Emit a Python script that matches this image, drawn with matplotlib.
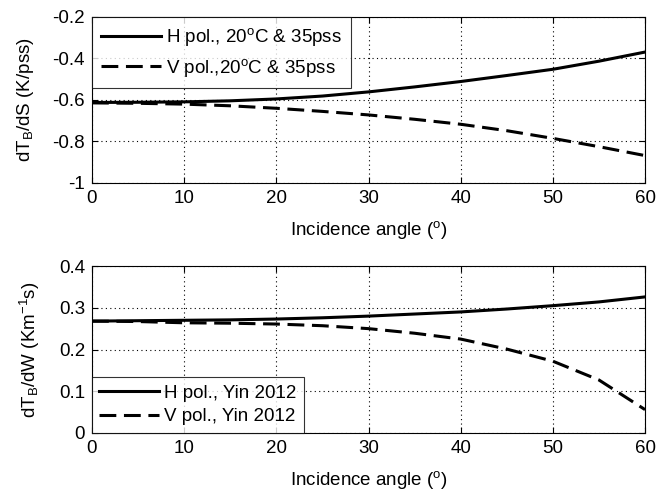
import matplotlib
matplotlib.use("Agg")
import matplotlib.pyplot as plt
from matplotlib.ticker import FuncFormatter

plt.rcParams['font.family'] = ['Liberation Sans', 'DejaVu Sans']
plt.rcParams['axes.unicode_minus'] = False
plt.rcParams['mathtext.fontset'] = 'custom'
plt.rcParams['mathtext.rm'] = 'Liberation Sans'
plt.rcParams['mathtext.it'] = 'Liberation Sans'

angles = [0, 5, 10, 15, 20, 25, 30, 35, 40, 45, 50, 55, 60]
h_dS = [-0.612, -0.611, -0.609, -0.604, -0.595, -0.581, -0.561, -0.537, -0.511, -0.482, -0.452, -0.413, -0.369]
v_dS = [-0.614, -0.616, -0.620, -0.628, -0.640, -0.655, -0.672, -0.693, -0.717, -0.748, -0.785, -0.825, -0.868]
h_dW = [0.268, 0.269, 0.270, 0.271, 0.273, 0.276, 0.280, 0.285, 0.290, 0.297, 0.305, 0.314, 0.326]
v_dW = [0.268, 0.267, 0.264, 0.263, 0.261, 0.257, 0.250, 0.239, 0.225, 0.201, 0.172, 0.127, 0.056]

top_labels = ['H pol., 20$^{\\rm o}$C & 35pss', 'V pol.,20$^{\\rm o}$C & 35pss']
bot_labels = ['H pol., Yin 2012', 'V pol., Yin 2012']
xticks = [0, 10, 20, 30, 40, 50, 60]
yticks_top = [-1, -0.8, -0.6, -0.4, -0.2]
yticks_bot = [0, 0.1, 0.2, 0.3, 0.4]

FS = 13.5
DASH = (0, (5.5, 2.5))
fig = plt.figure(figsize=(6.59, 4.94), dpi=100)
ax1 = fig.add_axes([0.1396, 0.6296, 0.8392, 0.336])
ax2 = fig.add_axes([0.1396, 0.1235, 0.8392, 0.338])

fmt = FuncFormatter(lambda v, p: ('%g' % v))

def style(ax, yt, ylim):
    ax.set_xlim(0, 60)
    ax.set_ylim(*ylim)
    ax.set_xticks(xticks)
    ax.set_yticks(yt)
    ax.yaxis.set_major_formatter(fmt)
    ax.grid(True, linestyle=(0, (1, 3)), color='black', linewidth=0.8)
    ax.tick_params(direction='in', top=True, right=True, labelsize=FS, length=4, pad=5)
    for s in ax.spines.values():
        s.set_linewidth(0.8)
    ax.set_xlabel('Incidence angle ($^{\\rm o}$)', fontsize=FS, labelpad=9)

l1, = ax1.plot(angles, h_dS, color='black', lw=2.2, linestyle='-')
l2, = ax1.plot(angles, v_dS, color='black', lw=2.2, linestyle=DASH)
style(ax1, yticks_top, (-1, -0.2))
ax1.set_ylabel('dT$_{\\rm B}$/dS (K/pss)', fontsize=FS, labelpad=12)
leg1 = ax1.legend([l1, l2], top_labels, loc='upper left', fontsize=FS, frameon=True,
                  fancybox=False, edgecolor='black', handlelength=3.2, handletextpad=0.25,
                  borderaxespad=0, labelspacing=0.45, borderpad=0.5)
leg1.get_frame().set_linewidth(0.8)

m1, = ax2.plot(angles, h_dW, color='black', lw=2.2, linestyle='-')
m2, = ax2.plot(angles, v_dW, color='black', lw=2.2, linestyle=DASH)
style(ax2, yticks_bot, (0, 0.4))
ax2.set_ylabel('dT$_{\\rm B}$/dW (Km$^{-1}$s)', fontsize=FS, labelpad=12)
leg2 = ax2.legend([m1, m2], bot_labels, loc='lower left', fontsize=FS, frameon=True,
                  fancybox=False, edgecolor='black', handlelength=3.2, handletextpad=0.25,
                  borderaxespad=0, labelspacing=0.35, borderpad=0.4)
leg2.get_frame().set_linewidth(0.8)

fig.savefig('out.png', dpi=100)
